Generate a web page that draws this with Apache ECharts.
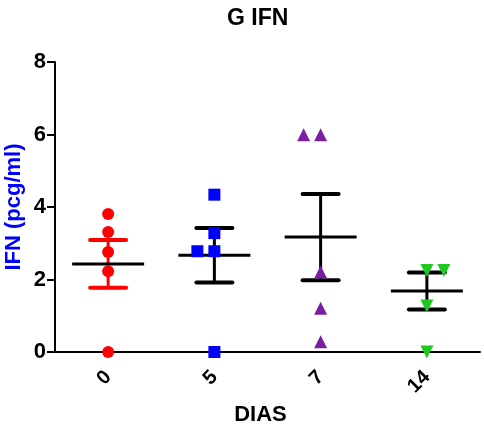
<!DOCTYPE html>
<html>
<head>
<meta charset="utf-8">
<script src="https://cdn.jsdelivr.net/npm/echarts@6/dist/echarts.min.js"></script>
<style>
  html, body { margin: 0; padding: 0; background: #fff; }
  #chart { width: 484px; height: 428px; }
</style>
</head>
<body>
<div id="chart"></div>
<script>
// dias del ensayo
const dias = ['0', '5', '7', '14'];

// valores individuales por grupo
const dia0 = [3.81, 3.31, 2.76, 2.23, 0];
const dia5 = [4.34, 3.28, 2.78, 2.78, 0];
const dia7 = [5.99, 5.99, 2.21, 1.21, 0.28];
const dia14 = [2.25, 2.25, 1.27, 0];

// media y error estandar
const medias = [2.43, 2.67, 3.17, 1.68];
const sem = [0.66, 0.75, 1.19, 0.51];

const yTicks = [0, 2, 4, 6, 8];

const font = 'Liberation Sans, Arial, sans-serif';
const grupos = [dia0, dia5, dia7, dia14];
const colores = ['#ff0000', '#0000ff', '#7b1fa2', '#1ec81e'];
const simbolos = ['circle', 'rect', 'triangle', 'triangle'];
const giro = [0, 0, 0, 180];
const tamano = [12, 12, 13, 13];
const despl = [0, -17, -17, 17]; // valores repetidos se separan
const colorBarra = ['#ff0000', '#000', '#000', '#000'];

let myChart = echarts.init(document.getElementById('chart'));

const scatterSeries = grupos.map(function (vals, i) {
    const vistos = {};
    return {
        type: 'scatter',
        z: 5,
        symbol: simbolos[i],
        symbolRotate: giro[i],
        symbolSize: tamano[i],
        itemStyle: { color: colores[i], opacity: 1 },
        data: vals.map(function (v) {
            const dup = vistos[v];
            vistos[v] = true;
            return { value: [i, v], symbolOffset: [dup ? despl[i] : 0, 0] };
        })
    };
});

myChart.setOption({
    animation: false,
    title: {
        text: 'G IFN',
        left: 222,
        top: 2,
        textStyle: { fontFamily: font, fontSize: 23, fontWeight: 'bold', color: '#000' }
    },
    grid: { left: 55, right: 4, top: 62, bottom: 76, containLabel: false, outerBoundsMode: 'none' },
    xAxis: {
        type: 'category',
        data: dias,
        boundaryGap: true,
        name: 'DIAS',
        nameLocation: 'middle',
        nameGap: 50,
        nameTextStyle: { fontFamily: font, fontSize: 22, fontWeight: 'bold', color: '#000', padding: [0, 14, 0, 0] },
        axisLine: { lineStyle: { color: '#000', width: 2 } },
        axisTick: { alignWithLabel: true, length: 8, lineStyle: { color: '#000', width: 2 } },
        axisLabel: { rotate: 45, margin: 22, fontFamily: font, fontSize: 20, fontWeight: 'bold', color: '#000' },
        splitLine: { show: false }
    },
    yAxis: {
        type: 'value',
        min: yTicks[0],
        max: yTicks[yTicks.length - 1],
        interval: 2,
        name: 'IFN (pcg/ml)',
        nameLocation: 'middle',
        nameGap: 30,
        nameMoveOverlap: false,
        nameTextStyle: { fontFamily: font, fontSize: 22, fontWeight: 'bold', color: '#0000ff' },
        axisLine: { show: true, lineStyle: { color: '#000', width: 2 } },
        axisTick: { show: true, length: 8, lineStyle: { color: '#000', width: 2 } },
        axisLabel: { margin: 9, fontFamily: font, fontSize: 22, fontWeight: 'bold', color: '#000' },
        splitLine: { show: false }
    },
    series: [{
        type: 'custom',
        z: 2,
        data: medias.map((m, i) => [i, m, m + sem[i], m - sem[i]]),
        renderItem: function (params, api) {
            const i = api.value(0);
            const m = api.coord([i, api.value(1)]);
            const hi = api.coord([i, api.value(2)]);
            const lo = api.coord([i, api.value(3)]);
            const c = colorBarra[params.dataIndex];
            const capW = 18, meanW = 36;
            return {
                type: 'group',
                children: [
                    { type: 'line', shape: { x1: hi[0], y1: hi[1], x2: lo[0], y2: lo[1] }, style: { stroke: c, lineWidth: 3 } },
                    { type: 'line', shape: { x1: hi[0] - capW, y1: hi[1], x2: hi[0] + capW, y2: hi[1] }, style: { stroke: c, lineWidth: 4, lineCap: 'round' } },
                    { type: 'line', shape: { x1: lo[0] - capW, y1: lo[1], x2: lo[0] + capW, y2: lo[1] }, style: { stroke: c, lineWidth: 4, lineCap: 'round' } },
                    { type: 'line', shape: { x1: m[0] - meanW, y1: m[1], x2: m[0] + meanW, y2: m[1] }, style: { stroke: '#000', lineWidth: 3 } }
                ]
            };
        }
    }].concat(scatterSeries)
});
</script>
</body>
</html>
